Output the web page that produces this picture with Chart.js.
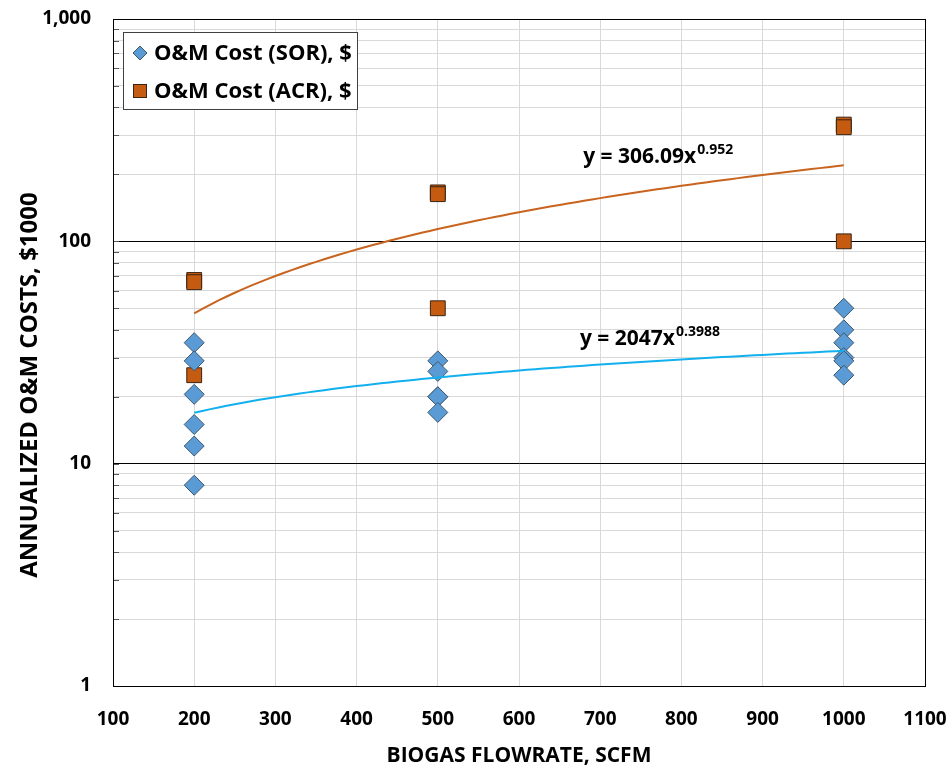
<!DOCTYPE html>
<html>
<head>
<meta charset="utf-8">
<script src="https://cdn.jsdelivr.net/npm/chart.js@4/dist/chart.umd.min.js"></script>
<style>
  html, body { margin: 0; padding: 0; background: #ffffff; }
  #wrap { width: 952px; height: 769px; }
</style>
</head>
<body>
<div id="wrap"><canvas id="c" width="952" height="769"></canvas></div>
<script>
// Biogas flowrate (SCFM) and annualized O&M cost ($1000) per treatment option
const flowSOR = [200, 200, 200, 200, 200, 200, 500, 500, 500, 500, 500, 1000, 1000, 1000, 1000, 1000, 1000];
const costSOR = [35, 29, 20.5, 15, 12, 8, 29, 26, 20, 20, 17, 50, 40, 35, 30, 29, 25];
const flowACR = [200, 200, 200, 500, 500, 500, 1000, 1000, 1000];
const costACR = [67, 65.5, 25, 166, 163, 50, 335, 326, 100];

// Power-law fits, y($) = a * x^b
const fitSOR = [2047, 0.3988];
const fitACR = [306.09, 0.952];
const fitRange = [200, 1000];

// Axis labels
const xTickLabels = ['100', '200', '300', '400', '500', '600', '700', '800', '900', '1000', '1100'];
const yDecades = [1, 10, 100, 1000];
const yDecadeLabels = ['1', '10', '100', '1,000'];

const seriesNames = ['O&M Cost (SOR), $', 'O&M Cost (ACR), $'];
const xTitle = 'BIOGAS FLOWRATE, SCFM';
const yTitle = 'ANNUALIZED O\u0026M COSTS, $1000';

const FONT = '"Open Sans", sans-serif';
const SOR_FILL = '#5b9bd5', SOR_EDGE = '#3f5870', SOR_LINE = '#12b0ee';
const ACR_FILL = '#c55a11', ACR_EDGE = '#3a2412', ACR_LINE = '#c8641e';

function toPoints(xs, ys) { return xs.map((x, i) => ({ x: x, y: ys[i] })); }
function fitPoints(coef) {
  const pts = [];
  for (let x = fitRange[0]; x <= fitRange[1]; x += 10) {
    pts.push({ x: x, y: coef[0] * Math.pow(x, coef[1]) / 1000 });
  }
  return pts;
}

// every 1..9 step inside each decade, for the log grid
const yGridValues = [];
for (let d = 0; d < yDecades.length - 1; d++) {
  for (let k = 1; k < 10; k++) yGridValues.push(k * yDecades[d]);
}
yGridValues.push(yDecades[yDecades.length - 1]);

// plot frame, inner minor tick marks, value-axis title, fit equations and legend box
const decorations = {
  id: 'decorations',
  afterDatasetsDraw(chart) {
    const { ctx, chartArea: a, scales } = chart;
    ctx.save();
    // inner tick marks on the value axis
    ctx.strokeStyle = '#595959';
    ctx.lineWidth = 1;
    yGridValues.forEach(v => {
      const y = Math.round(scales.y.getPixelForValue(v)) + 0.5;
      ctx.beginPath();
      ctx.moveTo(a.left, y);
      ctx.lineTo(a.left + 6, y);
      ctx.stroke();
    });
    // frame
    ctx.strokeStyle = '#000000';
    ctx.lineWidth = 1;
    ctx.strokeRect(Math.round(a.left) + 0.5, Math.round(a.top) + 0.5,
      Math.round(a.right - a.left), Math.round(a.bottom - a.top));

    // value-axis title
    ctx.save();
    ctx.translate(30, 385);
    ctx.rotate(-Math.PI / 2);
    ctx.font = 'bold 24px ' + FONT;
    ctx.fillStyle = '#000000';
    ctx.textAlign = 'center';
    ctx.textBaseline = 'middle';
    ctx.fillText(yTitle, 0, 0);
    ctx.restore();

    // fit equations
    const eq = (coef, xv, yv) => {
      const px = scales.x.getPixelForValue(xv);
      const py = scales.y.getPixelForValue(yv);
      ctx.fillStyle = '#000000';
      ctx.textBaseline = 'alphabetic';
      ctx.textAlign = 'left';
      ctx.font = 'bold 21px ' + FONT;
      const base = 'y = ' + coef[0] + 'x';
      ctx.fillText(base, px, py);
      const w = ctx.measureText(base).width;
      ctx.font = 'bold 14px ' + FONT;
      ctx.fillText(String(coef[1]), px + w + 1, py - 9);
    };
    eq(fitACR, 679, 225);
    eq(fitSOR, 675, 34.2);

    // legend
    const lx = 123.5, ly = 32.5, lw = 234, lh = 77;
    ctx.fillStyle = '#ffffff';
    ctx.fillRect(lx, ly, lw, lh);
    ctx.strokeStyle = '#404040';
    ctx.strokeRect(lx, ly, lw, lh);
    ctx.font = 'bold 22px ' + FONT;
    ctx.textBaseline = 'middle';
    ctx.fillStyle = '#000000';
    // diamond
    const dx = 140, dy = 53;
    ctx.beginPath();
    ctx.moveTo(dx - 7, dy); ctx.lineTo(dx, dy - 7); ctx.lineTo(dx + 7, dy); ctx.lineTo(dx, dy + 7); ctx.closePath();
    ctx.fillStyle = SOR_FILL; ctx.fill();
    ctx.strokeStyle = SOR_EDGE; ctx.stroke();
    // square
    const sx = 140, sy = 91;
    ctx.fillStyle = ACR_FILL;
    ctx.fillRect(sx - 6.5, sy - 6.5, 13, 13);
    ctx.strokeStyle = ACR_EDGE;
    ctx.strokeRect(sx - 6.5, sy - 6.5, 13, 13);
    ctx.fillStyle = '#000000';
    ctx.fillText(seriesNames[0], 154, dy + 1);
    ctx.fillText(seriesNames[1], 154, sy + 1);
    ctx.restore();
  }
};

new Chart(document.getElementById('c'), {
  type: 'scatter',
  data: {
    datasets: [
      { label: 'SOR fit', data: fitPoints(fitSOR), showLine: true, pointRadius: 0,
        borderColor: SOR_LINE, borderWidth: 2, fill: false },
      { label: 'ACR fit', data: fitPoints(fitACR), showLine: true, pointRadius: 0,
        borderColor: ACR_LINE, borderWidth: 2, fill: false },
      { label: seriesNames[0], data: toPoints(flowSOR, costSOR), pointStyle: 'rectRot',
        pointRadius: 10, backgroundColor: SOR_FILL, borderColor: SOR_EDGE, borderWidth: 1 },
      { label: seriesNames[1], data: toPoints(flowACR, costACR), pointStyle: 'rect',
        pointRadius: 10.5, backgroundColor: ACR_FILL, borderColor: ACR_EDGE, borderWidth: 1 }
    ]
  },
  options: {
    responsive: false,
    animation: false,
    events: [],
    layout: { padding: { left: 0, right: 27, top: 19, bottom: 0 } },
    plugins: { legend: { display: false }, tooltip: { enabled: false } },
    scales: {
      x: {
        type: 'linear', min: 100, max: 1100,
        afterBuildTicks(s) { s.ticks = xTickLabels.map(t => ({ value: Number(t) })); },
        ticks: { autoSkip: false, maxRotation: 0, color: '#000000', padding: 22,
          font: { family: FONT, size: 19, weight: 'bold' },
          callback: (v, i) => xTickLabels[i] },
        grid: { color: '#d9d9d9', drawTicks: false },
        border: { color: '#000000' },
        title: { display: true, text: xTitle, color: '#000000',
          font: { family: FONT, size: 21, weight: 'bold' }, padding: { top: 8, bottom: 0 } },
        afterFit(s) { s.height = 83; s.paddingLeft = 0; s.paddingRight = 0; }
      },
      y: {
        type: 'logarithmic', min: 1, max: 1000,
        afterBuildTicks(s) { s.ticks = yGridValues.map(v => ({ value: v })); },
        ticks: { autoSkip: false, color: '#000000', padding: 22,
          font: { family: FONT, size: 19, weight: 'bold' },
          callback: (v) => { const i = yDecades.indexOf(v); return i >= 0 ? yDecadeLabels[i] : ''; } },
        grid: { drawTicks: false,
          color: (c) => (c.tick && (c.tick.value === 10 || c.tick.value === 100)) ? '#000000' : '#d9d9d9' },
        border: { color: '#000000' },
        title: { display: false },
        afterFit(s) { s.width = 113; s.paddingTop = 0; s.paddingBottom = 0; }
      }
    }
  },
  plugins: [decorations]
});
</script>
</body>
</html>
